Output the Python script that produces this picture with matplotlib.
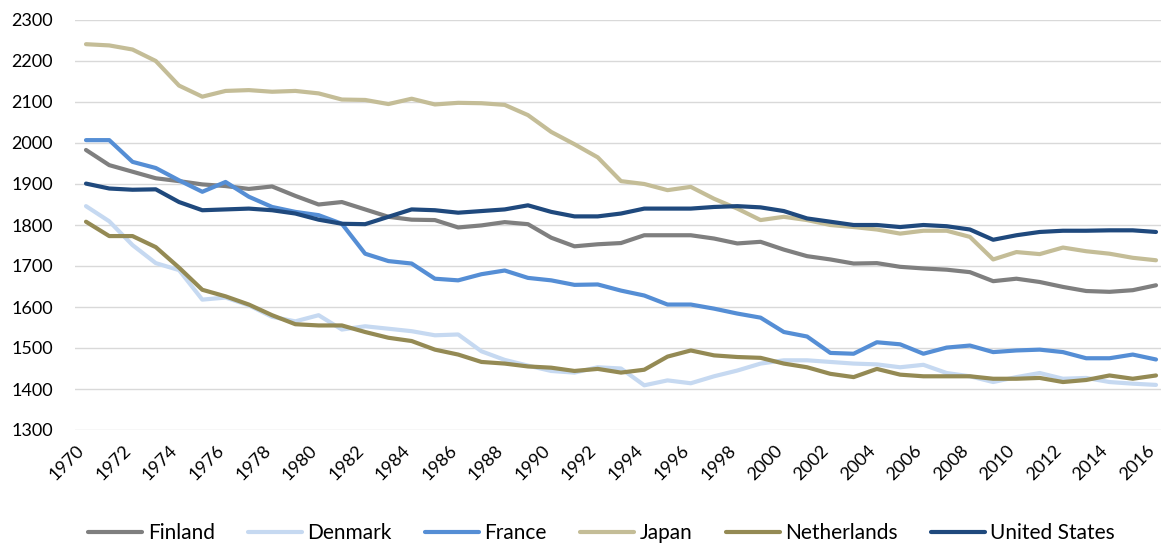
import matplotlib
matplotlib.use("Agg")
import matplotlib.pyplot as plt
from matplotlib.transforms import ScaledTranslation

years = list(range(1970, 2017))

finland = [1983, 1946, 1930, 1914, 1907, 1899, 1895, 1888, 1894, 1871,
           1850, 1856, 1838, 1820, 1813, 1812, 1794, 1799, 1807, 1802,
           1769, 1748, 1753, 1756, 1775, 1775, 1775, 1767, 1755, 1759,
           1740, 1724, 1716, 1706, 1707, 1698, 1694, 1691, 1685, 1663,
           1669, 1661, 1649, 1639, 1637, 1641, 1653]

denmark = [1846, 1809, 1751, 1707, 1690, 1618, 1623, 1604, 1576, 1565,
           1580, 1545, 1553, 1547, 1541, 1531, 1533, 1492, 1471, 1457,
           1444, 1440, 1453, 1450, 1409, 1421, 1414, 1431, 1445, 1462,
           1470, 1470, 1466, 1462, 1460, 1453, 1459, 1439, 1431, 1417,
           1429, 1439, 1425, 1427, 1417, 1413, 1410]

france = [2007, 2007, 1954, 1939, 1909, 1881, 1905, 1869, 1844, 1832,
          1824, 1803, 1730, 1712, 1706, 1669, 1665, 1680, 1689, 1671,
          1665, 1654, 1655, 1640, 1628, 1606, 1606, 1596, 1584, 1574,
          1539, 1528, 1488, 1486, 1514, 1509, 1486, 1501, 1506, 1490,
          1494, 1496, 1490, 1475, 1475, 1484, 1472]

japan = [2241, 2238, 2228, 2200, 2140, 2113, 2127, 2129, 2125, 2127,
         2121, 2106, 2105, 2095, 2108, 2094, 2098, 2097, 2093, 2068,
         2027, 1997, 1965, 1907, 1900, 1885, 1893, 1864, 1840, 1812,
         1820, 1812, 1800, 1795, 1789, 1779, 1786, 1786, 1771, 1716,
         1734, 1729, 1745, 1736, 1730, 1720, 1714]

netherlands = [1808, 1773, 1773, 1746, 1696, 1642, 1626, 1606, 1580, 1558,
               1555, 1555, 1539, 1525, 1517, 1496, 1484, 1466, 1462, 1455,
               1452, 1444, 1449, 1440, 1447, 1479, 1494, 1482, 1478, 1476,
               1462, 1453, 1437, 1429, 1449, 1435, 1431, 1431, 1431, 1425,
               1425, 1427, 1417, 1422, 1433, 1425, 1433]

united_states = [1901, 1889, 1886, 1887, 1856, 1836, 1838, 1840, 1836, 1828,
                 1813, 1803, 1802, 1820, 1838, 1836, 1830, 1834, 1838, 1848,
                 1832, 1821, 1821, 1828, 1840, 1840, 1840, 1844, 1846, 1843,
                 1834, 1816, 1808, 1800, 1800, 1795, 1800, 1797, 1789, 1764,
                 1775, 1783, 1786, 1786, 1787, 1787, 1783]

series = [
    ("Finland", finland, "#7F7F7F"),
    ("Denmark", denmark, "#C6D9F1"),
    ("France", france, "#558ED5"),
    ("Japan", japan, "#C4BD97"),
    ("Netherlands", netherlands, "#948A54"),
    ("United States", united_states, "#1F497D"),
]

plt.rcParams['font.family'] = ['Lato', 'DejaVu Sans']

fig = plt.figure(figsize=(11.61, 5.44), dpi=100)
ax = fig.add_axes([75 / 1161, 1 - 430 / 544, 1 - 75 / 1161, 410 / 544])

for name, values, color in series:
    ax.plot(years, values, color=color, linewidth=3.0, label=name,
            solid_capstyle='round', solid_joinstyle='round')

ax.set_ylim(1300, 2300)
ax.set_yticks(range(1300, 2301, 100))
ax.set_xlim(1970 - 11 / 23.26, 2016 + 5 / 23.26)
ax.set_xticks(years[::2])
ax.set_xticklabels([str(y) for y in years[::2]], rotation=45,
                   ha='right', va='center', rotation_mode='anchor')

ax.grid(axis='y', color='#D9D9D9', linewidth=1.0)
ax.set_axisbelow(True)
for s in ax.spines.values():
    s.set_visible(False)
ax.tick_params(axis='both', length=0, labelsize=13, colors='black')
ax.tick_params(axis='y', pad=16)
ax.tick_params(axis='x', pad=13)

# nudge the rotated year labels a little to the left, as in the original
shift = ScaledTranslation(-4 / 100, 0, fig.dpi_scale_trans)
for lbl in ax.get_xticklabels():
    lbl.set_transform(lbl.get_transform() + shift)

ax.legend(loc='lower center', bbox_to_anchor=(0.485, -0.322), ncol=6,
          frameon=False, fontsize=15, handlelength=2.6, columnspacing=1.6,
          handletextpad=0.25)

fig.savefig("out.png", dpi=100)
